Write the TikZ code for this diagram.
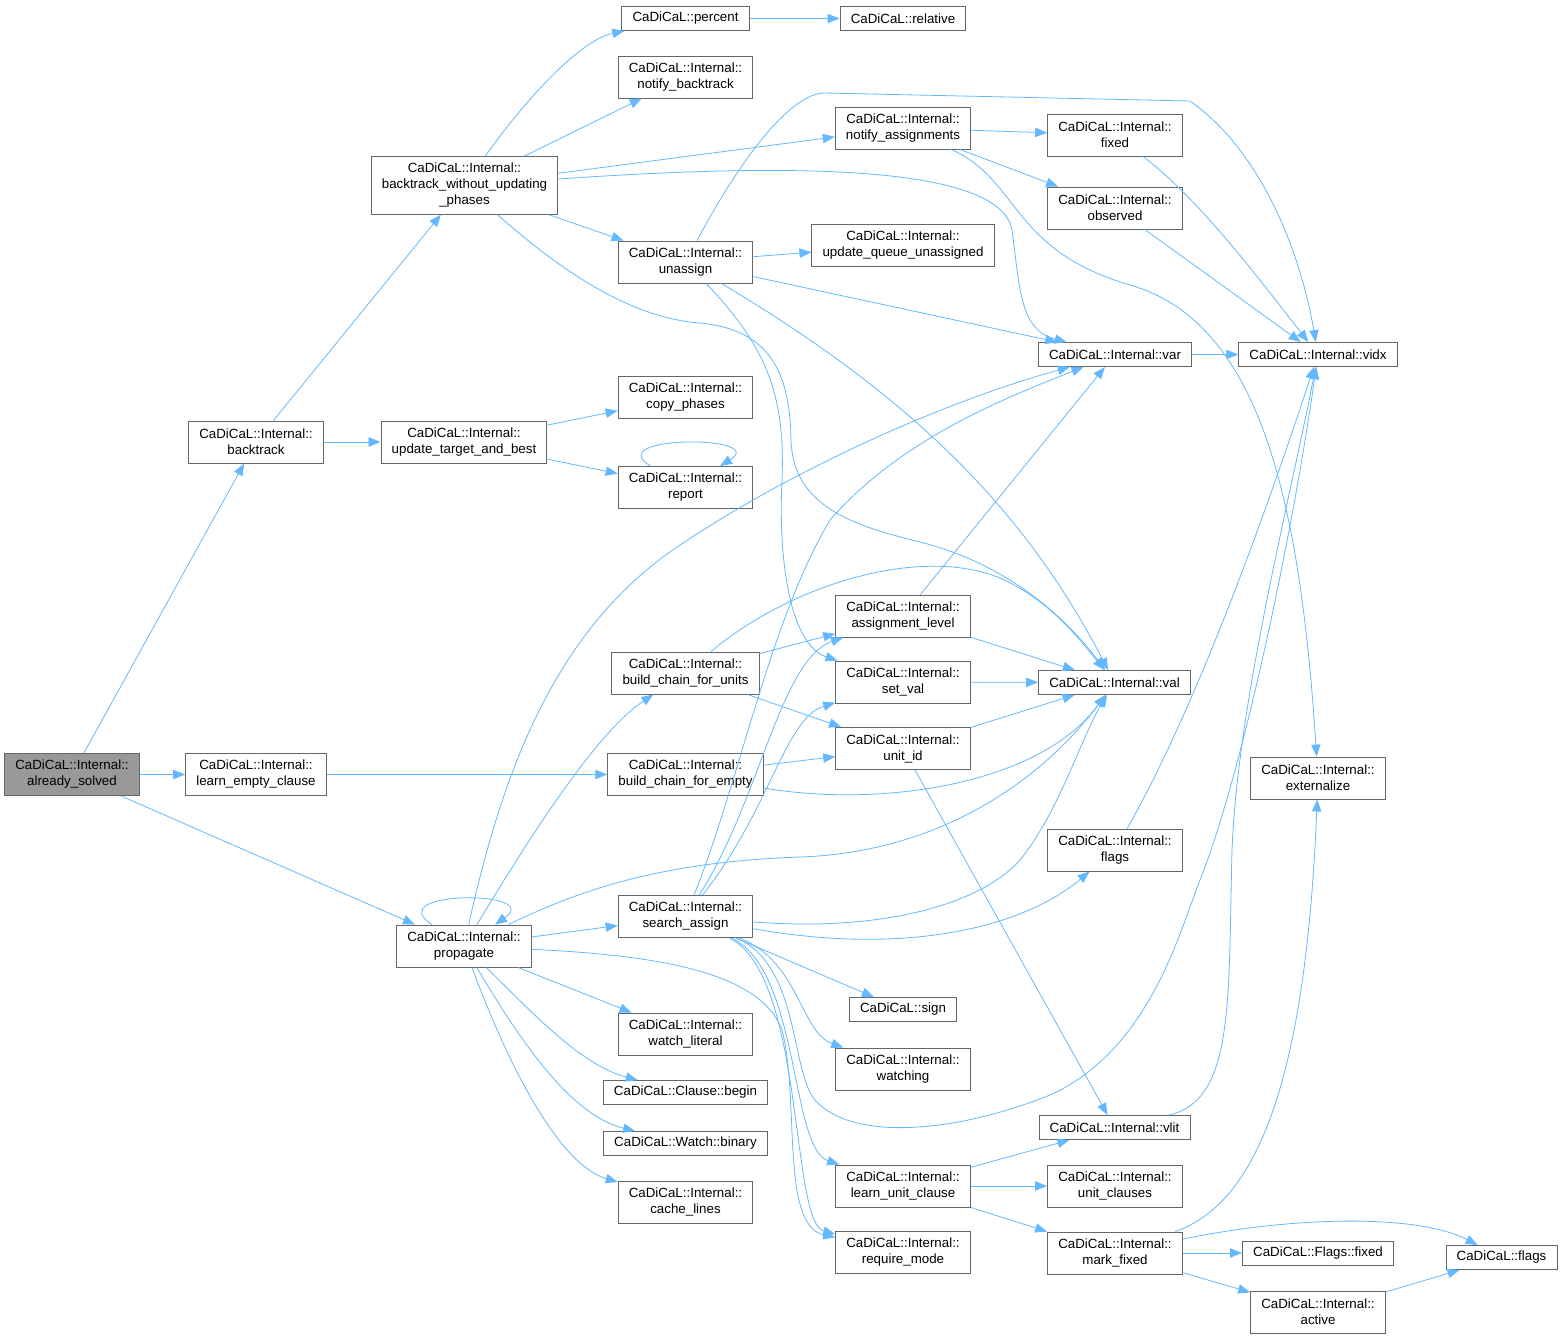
\documentclass[tikz,border=0pt]{standalone}
\usepackage{fontspec}
\setmainfont{Liberation Sans}
\usetikzlibrary{arrows.meta}
\definecolor{edgeblue}{HTML}{63B8FF}
\definecolor{boxline}{HTML}{666666}
\definecolor{rootfill}{HTML}{999999}
\begin{document}
\begin{tikzpicture}[x=0.75pt, y=-0.75pt,
  fn/.style={rectangle, draw=boxline, line width=0.7pt, fill=white, align=center,
    font=\fontsize{10}{12}\selectfont, inner xsep=8pt, inner ysep=0pt, minimum height=31.5pt},
  fn1/.style={fn, minimum height=18pt},
  fn3/.style={fn, minimum height=43pt},
  root/.style={fn, fill=rootfill},
  call/.style={draw=edgeblue, line width=0.6pt, -{Triangle[length=9pt,width=7pt]}}]
  \useasboundingbox (0,0) rectangle (1562,1339);

  \node[root] (solved) at (72,774.5) {CaDiCaL::Internal::\\already\_solved};
  \node[fn] (backtrack) at (256,442) {CaDiCaL::Internal::\\backtrack};
  \node[fn] (learnempty) at (256,774.5) {CaDiCaL::Internal::\\learn\_empty\_clause};
  \node[fn] (propagate) at (464,946) {CaDiCaL::Internal::\\propagate};
  \node[fn3] (bwup) at (464.5,185.5) {CaDiCaL::Internal::\\backtrack\_without\_updating\\\_phases};
  \node[fn] (utab) at (464,442) {CaDiCaL::Internal::\\update\_target\_and\_best};
  \node[fn1] (percent) at (685.5,18.5) {CaDiCaL::percent};
  \node[fn1] (relative) at (903,18.5) {CaDiCaL::relative};
  \node[fn] (notifybt) at (685.5,77) {CaDiCaL::Internal::\\notify\_backtrack};
  \node[fn] (notifyas) at (903,128) {CaDiCaL::Internal::\\notify\_assignments};
  \node[fn] (fixed) at (1115,135) {CaDiCaL::Internal::\\fixed};
  \node[fn] (observed) at (1115,208) {CaDiCaL::Internal::\\observed};
  \node[fn] (unassign) at (685.5,262) {CaDiCaL::Internal::\\unassign};
  \node[fn] (uqu) at (903,245) {CaDiCaL::Internal::\\update\_queue\_unassigned};
  \node[fn1] (var) at (1115,354.5) {CaDiCaL::Internal::var};
  \node[fn1] (vidx) at (1318,354.5) {CaDiCaL::Internal::vidx};
  \node[fn] (copyph) at (685.5,397) {CaDiCaL::Internal::\\copy\_phases};
  \node[fn] (report) at (685.5,487.5) {CaDiCaL::Internal::\\report};
  \node[fn] (asslevel) at (903,616) {CaDiCaL::Internal::\\assignment\_level};
  \node[fn] (bcunits) at (685.5,673) {CaDiCaL::Internal::\\build\_chain\_for\_units};
  \node[fn] (setval) at (903,682) {CaDiCaL::Internal::\\set\_val};
  \node[fn1] (val) at (1114.5,682.5) {CaDiCaL::Internal::val};
  \node[fn] (unitid) at (903,748.5) {CaDiCaL::Internal::\\unit\_id};
  \node[fn] (bcempty) at (685.5,774.5) {CaDiCaL::Internal::\\build\_chain\_for\_empty};
  \node[fn] (externalize) at (1318,778) {CaDiCaL::Internal::\\externalize};
  \node[fn] (iflags) at (1115,850) {CaDiCaL::Internal::\\flags};
  \node[fn] (searchassign) at (685.5,916.5) {CaDiCaL::Internal::\\search\_assign};
  \node[fn1] (sign) at (903,1009.5) {CaDiCaL::sign};
  \node[fn] (watching) at (903,1069) {CaDiCaL::Internal::\\watching};
  \node[fn] (watchlit) at (685.5,1034) {CaDiCaL::Internal::\\watch\_literal};
  \node[fn1] (clausebegin) at (685.5,1092.5) {CaDiCaL::Clause::begin};
  \node[fn1] (watchbinary) at (685.5,1143.5) {CaDiCaL::Watch::binary};
  \node[fn] (cachelines) at (685.5,1202) {CaDiCaL::Internal::\\cache\_lines};
  \node[fn1] (vlit) at (1114.5,1127.5) {CaDiCaL::Internal::vlit};
  \node[fn] (learnunit) at (903,1186) {CaDiCaL::Internal::\\learn\_unit\_clause};
  \node[fn] (unitclauses) at (1115,1186) {CaDiCaL::Internal::\\unit\_clauses};
  \node[fn] (requiremode) at (903,1252.5) {CaDiCaL::Internal::\\require\_mode};
  \node[fn] (markfixed) at (1115,1253) {CaDiCaL::Internal::\\mark\_fixed};
  \node[fn1] (flagsfixed) at (1318,1253) {CaDiCaL::Flags::fixed};
  \node[fn1] (flags) at (1501.5,1257.5) {CaDiCaL::flags};
  \node[fn] (active) at (1318,1312) {CaDiCaL::Internal::\\active};

  \draw[call] (solved) -- (backtrack);
  \draw[call] (solved) -- (learnempty);
  \draw[call] (solved) -- (propagate);
  \draw[call] (backtrack) -- (bwup);
  \draw[call] (backtrack) -- (utab);
  \draw[call] (learnempty) -- (bcempty);

  \draw[call] (bwup) .. controls (525,100) and (580,40) .. (percent);
  \draw[call] (bwup) -- (notifybt);
  \draw[call] (bwup) -- (notifyas);
  \draw[call] (bwup) -- (unassign);
  \draw[call] (bwup) .. controls (760,165) and (1000,160) .. (1012,230)
    .. controls (1020,290) and (1020,330) .. (var);
  \draw[call] (bwup) .. controls (560,270) and (630,318) .. (700,323)
    .. controls (775,330) and (790,380) .. (791,440)
    .. controls (793,505) and (850,525) .. (920,542)
    .. controls (1000,562) and (1060,610) .. (val);
  \draw[call] (percent) -- (relative);

  \draw[call] (notifyas) -- (fixed);
  \draw[call] (notifyas) -- (observed);
  \draw[call] (notifyas) .. controls (1020,180) and (1010,250) .. (1130,285)
    .. controls (1260,322) and (1300,500) .. (externalize);
  \draw[call] (fixed) .. controls (1200,200) and (1260,280) .. (vidx);
  \draw[call] (observed) -- (vidx);

  \draw[call] (unassign) -- (uqu);
  \draw[call] (unassign) -- (var);
  \draw[call] (unassign) .. controls (900,390) and (1020,500) .. (val);
  \draw[call] (unassign) .. controls (740,160) and (790,93) .. (825,93) -- (1190,101)
    .. controls (1260,150) and (1300,250) .. (vidx);
  \draw[call] (unassign) .. controls (770,350) and (785,400) .. (782,480)
    .. controls (778,560) and (790,645) .. (setval);
  \draw[call] (var) -- (vidx);

  \draw[call] (utab) -- (copyph);
  \draw[call] (utab) -- (report);
  \draw[call] (report) .. controls (600,435) and (770,435) .. (report);

  \draw[call] (asslevel) -- (var);
  \draw[call] (asslevel) -- (val);
  \draw[call] (bcunits) -- (asslevel);
  \draw[call] (bcunits) -- (unitid);
  \draw[call] (bcunits) .. controls (790,585) and (920,545) .. (1000,578)
    .. controls (1050,600) and (1080,640) .. (val);
  \draw[call] (setval) -- (val);
  \draw[call] (unitid) -- (val);
  \draw[call] (unitid) -- (vlit);
  \draw[call] (bcempty) -- (unitid);
  \draw[call] (bcempty) .. controls (880,808) and (1040,785) .. (val);
  \draw[call] (iflags) .. controls (1200,700) and (1270,500) .. (vidx);

  \draw[call] (propagate) .. controls (380,890) and (545,890) .. (propagate);
  \draw[call] (propagate) .. controls (505,760) and (560,625) .. (680,545)
    .. controls (800,465) and (950,400) .. (var);
  \draw[call] (propagate) .. controls (540,820) and (600,730) .. (bcunits);
  \draw[call] (propagate) .. controls (580,890) and (660,862) .. (800,857)
    .. controls (950,852) and (1050,770) .. (val);
  \draw[call] (propagate) -- (searchassign);
  \draw[call] (propagate) -- (watchlit);
  \draw[call] (propagate) .. controls (530,1010) and (580,1065) .. (clausebegin);
  \draw[call] (propagate) .. controls (520,1040) and (570,1115) .. (watchbinary);
  \draw[call] (propagate) .. controls (510,1070) and (560,1165) .. (cachelines);
  \draw[call] (propagate) .. controls (650,955) and (760,970) .. (782,1030)
    .. controls (800,1100) and (780,1225) .. (requiremode);

  \draw[call] (searchassign) .. controls (740,780) and (770,620) .. (830,520)
    .. controls (900,440) and (1000,400) .. (var);
  \draw[call] (searchassign) .. controls (760,800) and (780,660) .. (asslevel);
  \draw[call] (searchassign) .. controls (770,810) and (785,718) .. (setval);
  \draw[call] (searchassign) .. controls (880,932) and (980,905) .. (1020,860)
    .. controls (1060,810) and (1080,740) .. (val);
  \draw[call] (searchassign) .. controls (900,955) and (1020,930) .. (iflags);
  \draw[call] (searchassign) -- (sign);
  \draw[call] (searchassign) .. controls (800,962) and (800,1032) .. (watching);
  \draw[call] (searchassign) .. controls (800,965) and (790,1070) .. (815,1100)
    .. controls (850,1140) and (950,1135) .. (1050,1095)
    .. controls (1150,1050) and (1180,930) .. (1200,880)
    .. controls (1240,780) and (1290,550) .. (vidx);
  \draw[call] (searchassign) .. controls (800,970) and (790,1148) .. (learnunit);
  \draw[call] (searchassign) .. controls (805,975) and (790,1222) .. (requiremode);

  \draw[call] (vlit) .. controls (1235,1100) and (1228,1000) .. (1232,850)
    .. controls (1238,700) and (1290,500) .. (vidx);
  \draw[call] (learnunit) -- (vlit);
  \draw[call] (learnunit) -- (unitclauses);
  \draw[call] (learnunit) -- (markfixed);
  \draw[call] (markfixed) .. controls (1250,1205) and (1305,1100) .. (externalize);
  \draw[call] (markfixed) -- (flagsfixed);
  \draw[call] (markfixed) .. controls (1300,1215) and (1420,1215) .. (flags);
  \draw[call] (markfixed) -- (active);
  \draw[call] (active) -- (flags);
\end{tikzpicture}
\end{document}
